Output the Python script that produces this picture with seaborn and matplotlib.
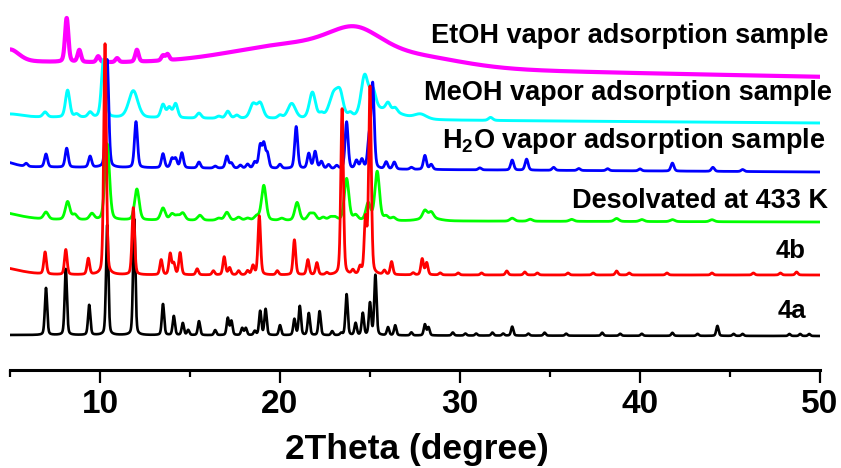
import numpy as np
import pandas as pd
import matplotlib
matplotlib.use("Agg")
import matplotlib.pyplot as plt
from matplotlib.ticker import MultipleLocator
import seaborn as sns

# ---------------- data ----------------
two_theta_min, two_theta_max = 5, 50
xticks_major = [10, 20, 30, 40, 50]

sample_labels = ["4a", "4b", "Desolvated at 433 K",
                 "H$_2$O vapor adsorption sample",
                 "MeOH vapor adsorption sample",
                 "EtOH vapor adsorption sample"]
sample_colors = ["#000000", "#ff0000", "#00ff00", "#0000ff", "#00ffff", "#ff00ff"]

# baselines (intensity offset at 5 deg and at 50 deg)
base_4a = (35, 34)
base_4b = (95, 95)
base_des = (150, 148)
base_h2o = (203, 198)
base_meoh = (253, 247)
base_etoh = (308, 293)

# sharp reflections: positions (deg 2theta) and heights
pos_4a = [7.0, 8.1, 9.4, 10.4, 11.9, 13.5, 14.1, 14.6, 14.9, 15.5, 16.4, 17.1, 17.3, 17.9, 18.1,
          18.6, 18.9, 19.2, 20.0, 20.8, 21.1, 21.6, 22.2, 22.9, 23.4, 23.7, 24.2, 24.6, 25.0,
          25.3, 26.0, 26.4, 27.3, 28.05, 28.25, 29.6, 30.3, 30.9, 31.8, 32.4, 32.9, 33.8, 34.7,
          35.9, 37.9, 38.9, 40.1, 41.8, 43.2, 44.3, 45.2, 45.7, 48.3, 48.9, 49.4]
hts_4a = [47, 66, 30, 110, 116, 31, 19, 12, 5, 14, 5, 17, 14, 7, 7,
          4, 24, 26, 10, 16, 29, 22, 24, 4, 2, 41, 12, 22, 32,
          60, 8, 10, 3, 11, 8, 3, 2, 2, 3, 2, 9, 2, 3,
          2, 3, 2, 2, 3, 2, 10, 2, 2, 2, 2, 2]

pos_4b = [6.95, 8.1, 9.35, 10.28, 11.85, 13.4, 13.9, 14.1, 14.45, 15.4, 16.3, 16.9, 17.2, 17.7,
          18.2, 18.5, 18.85, 19.85, 20.8, 21.55, 22.05, 22.6, 23.45, 24.05, 24.45, 24.75, 25.0,
          25.8, 26.2, 27.4, 27.9, 28.15, 28.9, 29.9, 31.2, 32.6, 33.6, 34.3, 36.0, 37.4, 38.7,
          39.4, 41.5, 44.0, 46.3, 47.8, 48.7]
hts_4b = [22, 25, 16, 231, 67, 15, 21, 11, 22, 6, 4, 18, 7, 4,
          4, 9, 59, 4, 35, 15, 12, 2, 166, 4, 7, 54, 187,
          4, 13, 2, 16, 12, 2, 2, 2, 4, 3, 2, 2, 2, 4,
          2, 2, 2, 2, 2, 3]

pos_des = [7.0, 8.2, 8.6, 9.55, 10.4, 12.05, 13.5, 14.0, 14.3, 14.6, 15.55, 16.6, 17.05, 17.7,
           18.2, 18.7, 19.1, 20.1, 20.95, 21.65, 21.9, 22.4, 22.8, 23.05, 23.7, 24.2, 24.9, 25.4,
           25.9, 26.3, 28.05, 28.4, 32.9, 33.9, 36.2, 38.7, 40.1, 41.8, 44.0]
hts_des = [7, 18, 5, 6, 76, 31, 12, 6, 4, 7, 5, 2, 8, 3,
           2, 4, 35, 2, 18, 6, 6, 3, 3, 3, 42, 5, 17, 49,
           4, 3, 8, 6, 3, 2, 2, 3, 2, 2, 2]

pos_h2o = [5.9, 7.0, 8.15, 9.45, 10.4, 12.0, 13.5, 14.0, 14.2, 14.55, 15.5, 16.4, 17.05, 17.3,
           17.8, 18.2, 18.6, 18.9, 19.1, 19.3, 20.0, 20.9, 21.6, 21.95, 22.3, 22.7, 23.15, 23.7,
           24.25, 24.55, 24.95, 25.15, 25.9, 26.35, 27.3, 28.05, 28.4, 31.1, 32.9, 33.7, 35.2,
           36.6, 38.2, 40.0, 41.8, 44.05, 45.7]
hts_h2o = [3, 13, 19, 11, 108, 46, 14, 9, 9, 15, 6, 2, 12, 5,
           3, 4, 6, 22, 23, 14, 4, 42, 15, 17, 7, 4, 3, 47,
           8, 9, 28, 84, 7, 7, 2, 14, 5, 2, 10, 11, 3,
           2, 2, 2, 8, 4, 2]

pos_meoh = [6.95, 8.2, 8.7, 9.45, 10.2, 13.5, 13.85, 14.2, 15.5, 16.6, 17.1, 17.6, 20.0,
            22.3, 23.9, 26.0, 26.4, 31.7]
hts_meoh = [5, 27, 3, 5, 58, 13, 10, 14, 5, 2, 7, 3, 3,
            4, 4, 7, 4, 3]

pos_etoh = [8.15, 8.85, 9.9, 10.95, 12.05, 13.5, 13.75]
hts_etoh = [44, 12, 6, 4, 12, 5, 6]

# peak widths (FWHM, deg) of the sharp reflections
fwhm_4a, fwhm_4b, fwhm_des, fwhm_h2o, fwhm_meoh, fwhm_etoh = 0.15, 0.17, 0.3, 0.2, 0.28, 0.22

# broad features: low-angle tails, broadened reflections, amorphous halo
broad_pos_4a, broad_hts_4a, broad_w_4a = [], [], []
broad_pos_4b, broad_hts_4b, broad_w_4b = [4.0], [9], [3.0]
broad_pos_des, broad_hts_des, broad_w_des = [4.0, 28.3], [9, 3], [3.0, 1.2]
broad_pos_h2o, broad_hts_h2o, broad_w_h2o = [4.5], [6], [1.5]
broad_pos_meoh = [5.0, 11.85, 18.5, 18.9, 20.65, 21.8, 23.0, 23.35, 24.7, 25.15, 25.8, 27.8]
broad_hts_meoh = [3, 27, 14, 15, 15, 26, 25, 19, 39, 21, 10, 5]
broad_w_meoh = [1.5, 0.6, 0.4, 0.4, 0.5, 0.4, 0.6, 0.4, 0.45, 0.4, 2.0, 0.8]
broad_pos_etoh = [5.0, 21.0, 24.2, 28.0]
broad_hts_etoh = [12, 22, 24, 8]
broad_w_etoh = [1.2, 9.0, 3.5, 6.0]

# text label anchors (right edge 2theta, intensity at baseline)
label_x = [49.22, 49.17, 50.44, 50.3, 50.67, 50.44]
label_y = [52, 112, 162, 222, 270, 327]
label_size = [18.5, 18.5, 19.5, 19.5, 19.5, 19.5]
line_widths = [1.9, 2.0, 2.0, 2.0, 2.1, 3.0]


# ---------------- build patterns ----------------
def pseudo_voigt(x, p, h, w, eta=0.3):
    d = (x - p) / (w / 2.0)
    return h * (eta / (1.0 + d ** 2) + (1 - eta) * np.exp(-np.log(2) * d ** 2))


def pattern(x, base, pos, hts, fwhm, bpos, bhts, bw):
    y = base[0] + (base[1] - base[0]) * (x - two_theta_min) / (two_theta_max - two_theta_min)
    for p, h in zip(pos, hts):
        y = y + pseudo_voigt(x, p, h, fwhm)
    for p, h, w in zip(bpos, bhts, bw):
        y = y + pseudo_voigt(x, p, h, w)
    return y


x = np.linspace(two_theta_min, two_theta_max, 4501)
series = [
    (base_4a, pos_4a, hts_4a, fwhm_4a, broad_pos_4a, broad_hts_4a, broad_w_4a),
    (base_4b, pos_4b, hts_4b, fwhm_4b, broad_pos_4b, broad_hts_4b, broad_w_4b),
    (base_des, pos_des, hts_des, fwhm_des, broad_pos_des, broad_hts_des, broad_w_des),
    (base_h2o, pos_h2o, hts_h2o, fwhm_h2o, broad_pos_h2o, broad_hts_h2o, broad_w_h2o),
    (base_meoh, pos_meoh, hts_meoh, fwhm_meoh, broad_pos_meoh, broad_hts_meoh, broad_w_meoh),
    (base_etoh, pos_etoh, hts_etoh, fwhm_etoh, broad_pos_etoh, broad_hts_etoh, broad_w_etoh),
]
frames = []
for name, s in zip(sample_labels, series):
    frames.append(pd.DataFrame({"two_theta": x, "intensity": pattern(x, *s), "sample": name}))
df = pd.concat(frames, ignore_index=True)

# ---------------- plot ----------------
sns.set_theme(style="white")
plt.rcParams["font.family"] = ["Liberation Sans", "DejaVu Sans"]
plt.rcParams["font.weight"] = "bold"
plt.rcParams["text.color"] = "black"
plt.rcParams["axes.labelcolor"] = "black"
plt.rcParams["xtick.color"] = "black"
plt.rcParams["mathtext.fontset"] = "custom"
plt.rcParams["mathtext.rm"] = "Liberation Sans:bold"
plt.rcParams["mathtext.it"] = "Liberation Sans:bold"
plt.rcParams["mathtext.bf"] = "Liberation Sans:bold"

fig = plt.figure(figsize=(8.41, 4.68), dpi=100)
ax = fig.add_axes([10 / 841, 98 / 468, 810 / 841, 370 / 468])

draw_order = [5, 4, 3, 2, 0, 1]
for i in draw_order:
    sub = df[df["sample"] == sample_labels[i]]
    sns.lineplot(data=sub, x="two_theta", y="intensity", color=sample_colors[i],
                 lw=line_widths[i], estimator=None, sort=False, ax=ax, legend=False)

for i, name in enumerate(sample_labels):
    ax.text(label_x[i], label_y[i], name, ha="right", va="baseline",
            fontsize=label_size[i], fontweight="bold", color="black")

ax.set_xlim(two_theta_min, two_theta_max)
ax.set_ylim(0, 370)
ax.set_yticks([])
ax.set_ylabel("")
for side in ["left", "right", "top"]:
    ax.spines[side].set_visible(False)
ax.spines["bottom"].set_linewidth(2.2)
ax.spines["bottom"].set_color("black")
ax.set_xticks(xticks_major)
ax.xaxis.set_minor_locator(MultipleLocator(5))
ax.tick_params(axis="x", which="major", direction="out", length=9.5, width=1.6,
               pad=4, labelsize=24, labelcolor="black", color="black", bottom=True)
ax.tick_params(axis="x", which="minor", direction="out", length=5, width=1.6,
               color="black", bottom=True)
for lbl in ax.get_xticklabels():
    lbl.set_fontweight("bold")

ax.set_xlabel("2Theta (degree)", fontsize=25.5, fontweight="bold", color="black")
ax.xaxis.label.set_va("baseline")
ax.xaxis.set_label_coords((417 - 10) / 810, (370 - 459) / 370)
ax.grid(False)

fig.savefig("out.png", dpi=100, facecolor="white")
